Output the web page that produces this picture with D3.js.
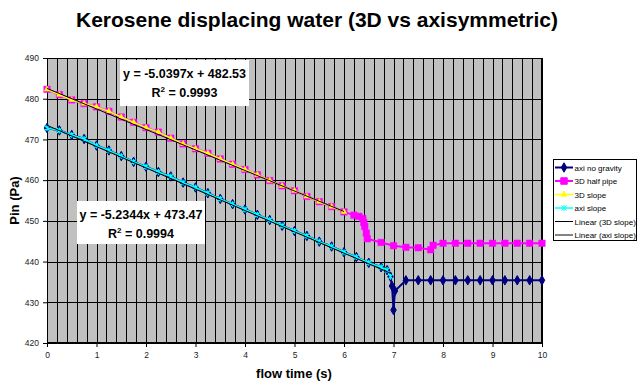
<!DOCTYPE html>
<html><head><meta charset="utf-8">
<script src="https://cdn.jsdelivr.net/npm/d3@7"></script>
<style>
html,body{margin:0;padding:0;background:#fff;}
svg{display:block;font-family:Arial,"Liberation Sans",sans-serif;}
</style></head>
<body><svg id="c" width="637" height="384"></svg>
<script>
// ---- data ----
const titleText = "Kerosene displacing water (3D vs axisymmetric)";
const xLabel = "flow time (s)";
const yLabel = "Pin (Pa)";
const xTicks = [0,1,2,3,4,5,6,7,8,9,10];
const yTicks = [420,430,440,450,460,470,480,490];
const seriesNames = ["axi no gravity","3D half pipe","3D slope","axi slope","Linear (3D slope)","Linear (axi slope)"];

const axiNoGravityX = [0,0.25,0.5,0.75,1,1.25,1.5,1.75,2,2.25,2.5,2.75,3,3.25,3.5,3.75,4,4.25,4.5,4.75,5,5.25,5.5,5.75,6,6.25,6.5,6.75,6.87,6.94,6.97,7.0,7.03,7.25,7.5,7.75,8,8.25,8.5,8.75,9,9.25,9.5,9.75,10];
const axiNoGravityY = [472.8,472.2,471.1,470.1,468.5,467.3,465.9,464.5,463.3,462.0,460.9,459.4,458.2,456.8,455.4,454.1,452.8,451.5,450.2,448.8,447.5,446.3,444.9,443.7,442.3,441.1,439.7,438.6,437.9,436.3,434.0,428.1,432.8,435.4,435.4,435.4,435.4,435.4,435.4,435.4,435.4,435.4,435.4,435.4,435.4];

const halfPipeX = [0,0.25,0.5,0.75,1,1.25,1.5,1.75,2,2.25,2.5,2.75,3,3.25,3.5,3.75,4,4.25,4.5,4.75,5,5.25,5.5,5.75,6,6.2,6.3,6.38,6.4,6.42,6.45,6.47,6.75,7,7.25,7.5,7.75,7.8,8,8.25,8.5,8.75,9,9.25,9.5,9.75,10];
const halfPipeY = [482.3,481.0,479.7,478.8,478.0,476.9,475.5,474.2,472.9,471.8,470.3,468.9,467.7,466.6,465.2,463.9,462.6,461.3,459.9,458.6,457.4,456.0,454.7,453.5,452.2,451.4,451.1,450.6,449.6,448.6,447.0,445.6,444.7,443.9,443.5,443.4,442.9,444.0,444.5,444.5,444.5,444.5,444.5,444.5,444.5,444.5,444.5];

const slope3DX = [0,0.25,0.5,0.75,1,1.25,1.5,1.75,2,2.25,2.5,2.75,3,3.25,3.5,3.75,4,4.25,4.5,4.75,5,5.25,5.5,5.75,6];
const slope3DY = [482.3,481.0,479.7,478.8,478.0,476.9,475.5,474.2,472.9,471.8,470.3,468.9,467.7,466.6,465.2,463.9,462.6,461.3,459.9,458.6,457.4,456.0,454.7,453.5,452.2];

const axiSlopeX = [0,0.25,0.5,0.75,1,1.25,1.5,1.75,2,2.25,2.5,2.75,3,3.25,3.5,3.75,4,4.25,4.5,4.75,5,5.25,5.5,5.75,6,6.25,6.5,6.75,6.87,6.94];
const axiSlopeY = [472.8,472.2,471.1,470.1,468.5,467.3,465.9,464.5,463.3,462.0,460.9,459.4,458.2,456.8,455.4,454.1,452.8,451.5,450.2,448.8,447.5,446.3,444.9,443.7,442.3,441.1,439.7,438.6,437.9,436.3];

// trendline coefficients (as printed on chart)
const fit3DSlope = -5.0397, fit3DIntercept = 482.53, fit3DR2 = "0.9993";
const fitAxiSlope = -5.2344, fitAxiIntercept = 473.47, fitAxiR2 = "0.9994";

// ---- drawing ----
const svg = d3.select("#c");
const W = 637, H = 384;
const pl = 47, pr = 542, pt = 58, pb = 343;
const x = d3.scaleLinear().domain([0,10]).range([pl,pr]);
const y = d3.scaleLinear().domain([420,490]).range([pb,pt]);

svg.append("rect").attr("width",W).attr("height",H).attr("fill","#fff");

// title
svg.append("text").attr("x",317).attr("y",26.5).attr("text-anchor","middle")
  .attr("font-size",21).attr("font-weight","bold").attr("fill","#000").text(titleText);

// plot area
svg.append("rect").attr("x",pl).attr("y",pt).attr("width",pr-pl).attr("height",pb-pt).attr("fill","#c0c0c0");

const grid = svg.append("g").attr("stroke","#000").attr("stroke-width",1).attr("shape-rendering","crispEdges");
grid.selectAll(".vg").data(d3.range(0,10.0001,0.2)).join("line")
  .attr("x1",d=>Math.round(x(d))+0.5).attr("x2",d=>Math.round(x(d))+0.5).attr("y1",pt).attr("y2",pb);
grid.selectAll(".hg").data(yTicks).join("line")
  .attr("x1",pl).attr("x2",pr).attr("y1",d=>Math.round(y(d))+0.5).attr("y2",d=>Math.round(y(d))+0.5);
svg.append("rect").attr("x",pl+0.5).attr("y",pt+0.5).attr("width",pr-pl-1).attr("height",pb-pt-1)
  .attr("fill","none").attr("stroke","#000").attr("shape-rendering","crispEdges");

// axes
const xAxis = d3.axisBottom(x).tickValues(xTicks).tickSize(4).tickPadding(5).tickFormat(d3.format("d"));
const gx = svg.append("g").attr("transform",`translate(0,${pb})`).call(xAxis);
const yAxis = d3.axisLeft(y).tickValues(yTicks).tickSize(4).tickPadding(4).tickFormat(d3.format("d"));
const gy = svg.append("g").attr("transform",`translate(${pl},0)`).call(yAxis);
[gx,gy].forEach(g=>{
  g.select(".domain").attr("stroke","#000");
  g.selectAll(".tick line").attr("stroke","#000");
  g.selectAll("text").attr("font-size",8.5).attr("fill","#222").attr("font-family","Arial, 'Liberation Sans', sans-serif");
});

// axis titles
svg.append("text").attr("x",294).attr("y",378).attr("text-anchor","middle")
  .attr("font-size",13).attr("font-weight","bold").text(xLabel);
svg.append("text").attr("transform",`translate(19,${(pt+pb)/2}) rotate(-90)`).attr("text-anchor","middle")
  .attr("font-size",13).attr("font-weight","bold").text(yLabel);

const zip = (xs,ys)=>xs.map((v,i)=>[v,ys[i]]);
const line = d3.line().x(d=>x(d[0])).y(d=>y(d[1]));
const plot = svg.append("g");

const sAxi = zip(axiNoGravityX,axiNoGravityY);
const sPipe = zip(halfPipeX,halfPipeY);
const s3D = zip(slope3DX,slope3DY);
const sAxiS = zip(axiSlopeX,axiSlopeY);

const diamond = d3.symbol().type(d3.symbolDiamond).size(26)();
const square = d3.symbol().type(d3.symbolSquare).size(42)();
const tri = d3.symbol().type(d3.symbolTriangle).size(14)();
const star = "M-2.5,-2.5L2.5,2.5M-2.5,2.5L2.5,-2.5M0,-3L0,3";

function drawSeries(data,color,width,path,fill,stroke,sw){
  plot.append("path").datum(data).attr("d",line).attr("fill","none").attr("stroke",color).attr("stroke-width",width);
  plot.append("g").selectAll("path").data(data).join("path")
    .attr("transform",d=>`translate(${x(d[0])},${y(d[1])})`).attr("d",path)
    .attr("fill",fill).attr("stroke",stroke).attr("stroke-width",sw);
}
drawSeries(sAxi,"#000080",2,diamond,"#000080","#000080",1);
drawSeries(sPipe,"#ff00ff",2,square,"#ff00ff","#ff00ff",0.5);
drawSeries(s3D,"#ffff00",1.5,tri,"#ffff00","#ffff00",0.5);
drawSeries(sAxiS,"#00ffff",1.5,star,"none","#00ffff",1.2);

// trendlines
function trend(slope,intercept,x0,x1){
  plot.append("line").attr("x1",x(x0)).attr("y1",y(slope*x0+intercept))
    .attr("x2",x(x1)).attr("y2",y(slope*x1+intercept)).attr("stroke","#000").attr("stroke-width",1);
}
trend(fit3DSlope,fit3DIntercept,d3.min(slope3DX),d3.max(slope3DX));
trend(fitAxiSlope,fitAxiIntercept,d3.min(axiSlopeX),d3.max(axiSlopeX));

// equation boxes
function eqBox(bx,by,bw,bh,slope,intercept,r2){
  const g = svg.append("g");
  g.append("rect").attr("x",bx).attr("y",by).attr("width",bw).attr("height",bh).attr("fill","#fff");
  const cx = bx+bw/2;
  g.append("text").attr("x",cx).attr("y",by+17.5).attr("text-anchor","middle").attr("font-size",12.5).attr("font-weight","bold")
    .text(`y = ${slope}x + ${intercept}`);
  const t = g.append("text").attr("x",cx).attr("y",by+36.5).attr("text-anchor","middle").attr("font-size",12.5).attr("font-weight","bold");
  t.append("tspan").text("R");
  t.append("tspan").attr("dy",-5).attr("font-size",8).text("2");
  t.append("tspan").attr("dy",5).text(` = ${r2}`);
}
eqBox(120,60,129,46,fit3DSlope,fit3DIntercept,fit3DR2);
eqBox(77,201,128,43,fitAxiSlope,fitAxiIntercept,fitAxiR2);

// legend
const lg = svg.append("g");
lg.append("rect").attr("x",553.5).attr("y",159.5).attr("width",83).attr("height",80.5)
  .attr("fill","#fff").attr("stroke","#000").attr("shape-rendering","crispEdges");
const legItems = [
  {color:"#000080",w:2,path:diamond,fill:"#000080",stroke:"#000080"},
  {color:"#ff00ff",w:2,path:square,fill:"#ff00ff",stroke:"#ff00ff"},
  {color:"#ffff00",w:1.5,path:tri,fill:"#ffff00",stroke:"#ffff00"},
  {color:"#00ffff",w:1.5,path:star,fill:"none",stroke:"#00ffff"},
  {color:"#000",w:1,path:null},
  {color:"#333",w:1.2,path:null}
];
legItems.forEach((it,i)=>{
  const yy = 167.5 + i*13.5;
  lg.append("line").attr("x1",555).attr("x2",573).attr("y1",yy).attr("y2",yy).attr("stroke",it.color).attr("stroke-width",it.w);
  if(it.path) lg.append("path").attr("transform",`translate(564,${yy})`).attr("d",it.path).attr("fill",it.fill).attr("stroke",it.stroke).attr("stroke-width",1);
  lg.append("text").attr("x",574.5).attr("y",yy+3).attr("font-size",8).attr("fill","#000").text(seriesNames[i]);
});
</script></body></html>
